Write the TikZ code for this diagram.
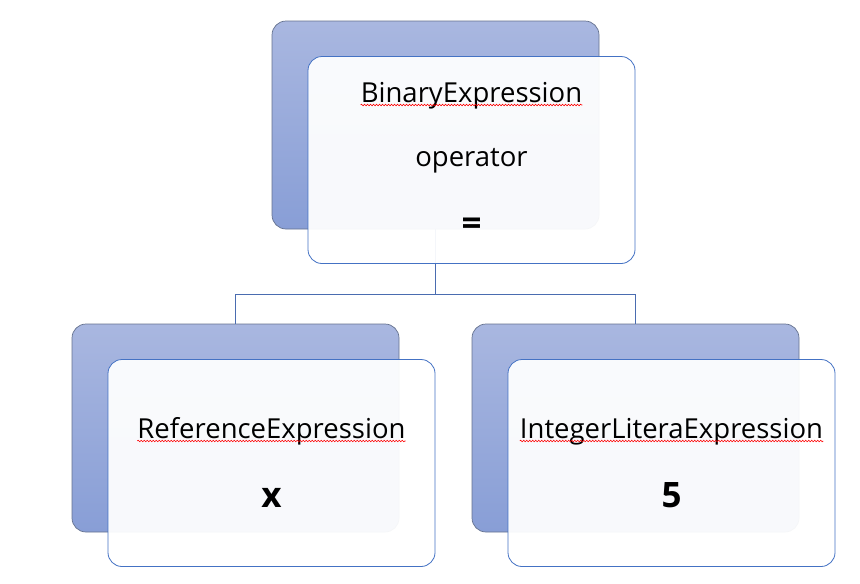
\documentclass[tikz,border=0pt]{standalone}
\usepackage{fontspec}
\setmainfont{Open Sans}
\usetikzlibrary{positioning,calc,decorations.pathmorphing}
\definecolor{backtop}{HTML}{A9B7E0}
\definecolor{backbot}{HTML}{889ED6}
\definecolor{backline}{HTML}{65728F}
\definecolor{frontline}{HTML}{4472C4}
\definecolor{connline}{HTML}{4A6CB0}

\begin{document}
\begin{tikzpicture}[x=1pt, y=-1pt,
    back/.style={draw=backline, line width=0.7pt, rounded corners=14pt, top color=backtop,
      bottom color=backbot, minimum width=327pt, minimum height=208pt, inner sep=0pt},
    front/.style={draw=frontline, line width=0.8pt, rounded corners=14pt, fill=white,
      fill opacity=0.94, minimum width=327pt, minimum height=207pt, inner sep=0pt,
      xshift=36pt, yshift=-35pt},
    conn/.style={draw=connline, line width=0.8pt},
    label/.style={font=\fontsize{27.5}{32}\selectfont, inner sep=0pt, anchor=base},
    value/.style={font=\bfseries\fontsize{35}{40}\selectfont, inner sep=0pt},
    squiggle/.style={draw=red, line width=0.6pt, decorate,
      decoration={snake, amplitude=0.8pt, segment length=3pt}}
  ]
    \useasboundingbox (0,0) rectangle (860,584);

    \node[back] (bin_back) at (435.5,125) {};
    \node[back] (ref_back) at (235.5,428) {};
    \node[back] (int_back) at (635.5,428) {};

    \coordinate (split) at (435.5,294);
    \path[conn]
    (bin_back.south) -- (split) -| (ref_back.north)
    (split) -| (int_back.north);

    \node[front] (bin_front) at (bin_back) {};
    \node[front] (ref_front) at (ref_back) {};
    \node[front] (int_front) at (int_back) {};

    \node[label] (bin_name) at ($(bin_front.center)+(0,-58)$) {BinaryExpression};
    \node[label] (bin_op) at ($(bin_front.center)+(0,6)$) {operator};
    \node[value] (bin_val) at ($(bin_front.center)+(0,67)$) {=};
    \node[label] (ref_name) at ($(ref_front.center)+(0,-25)$) {ReferenceExpression};
    \node[value, anchor=base] (ref_val) at ($(ref_front.center)+(0,44)$) {x};
    \node[label] (int_name) at ($(int_front.center)+(0,-25)$) {IntegerLiteraExpression};
    \node[value, anchor=base] (int_val) at ($(int_front.center)+(0,44)$) {5};

    \draw[squiggle] ([yshift=-3pt]bin_name.base west) -- ([yshift=-3pt]bin_name.base east);
    \draw[squiggle] ([yshift=-3pt]ref_name.base west) -- ([yshift=-3pt]ref_name.base east);
    \draw[squiggle] ([yshift=-3pt]int_name.base west) -- ([yshift=-3pt]int_name.base east);
  \end{tikzpicture}
\end{document}
